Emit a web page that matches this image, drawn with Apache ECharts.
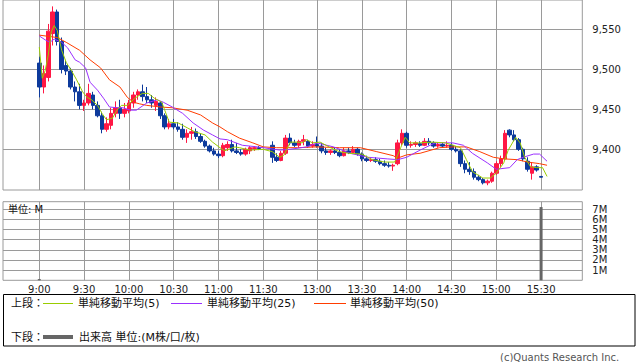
<!DOCTYPE html>
<html><head><meta charset="utf-8">
<script src="https://cdn.jsdelivr.net/npm/echarts@6/dist/echarts.min.js"></script>
<style>html,body{margin:0;padding:0;background:#fff}#c{width:638px;height:362px}</style>
</head><body><div id="c"></div>
<script>
// ---- data ----
const candleTimes = [
 '9:00','9:03','9:06','9:09','9:12','9:15','9:18','9:21','9:24','9:27',
 '9:30','9:33','9:36','9:39','9:42','9:45','9:48','9:51','9:54','9:57',
 '10:00','10:03','10:06','10:09','10:12','10:15','10:18','10:21','10:24','10:27',
 '10:30','10:33','10:36','10:39','10:42','10:45','10:48','10:51','10:54','10:57',
 '11:00','11:03','11:06','11:09','11:12','11:15','11:18','11:21','11:24','11:27',
 '12:30','12:33','12:36','12:39','12:42','12:45','12:48','12:51','12:54','12:57',
 '13:00','13:03','13:06','13:09','13:12','13:15','13:18','13:21','13:24','13:27',
 '13:30','13:33','13:36','13:39','13:42','13:45','13:48','13:51','13:54','13:57',
 '14:00','14:03','14:06','14:09','14:12','14:15','14:18','14:21','14:24','14:27',
 '14:30','14:33','14:36','14:39','14:42','14:45','14:48','14:51','14:54','14:57',
 '15:00','15:03','15:06','15:09','15:12','15:15','15:18','15:21','15:24','15:27',
 '15:30'];
const openP = [
 9508,9478,9490,9545,9572,9535,9505,9498,9478,9472,
 9455,9458,9468,9455,9442,9425,9430,9445,9452,9445,
 9448,9458,9468,9472,9466,9462,9455,9458,9442,9428,
 9432,9428,9425,9415,9420,9422,9416,9410,9404,9398,
 9394,9392,9402,9406,9398,9396,9394,9398,9401,9402,
 9405,9390,9386,9395,9414,9408,9405,9410,9410,9404,
 9406,9404,9398,9396,9398,9396,9392,9398,9396,9400,
 9394,9388,9386,9387,9385,9382,9380,9379,9382,9408,
 9420,9405,9406,9407,9405,9410,9408,9404,9406,9404,
 9405,9400,9398,9382,9375,9372,9365,9362,9358,9360,
 9370,9382,9388,9424,9418,9412,9400,9385,9370,9378,
 9366];
const highP = [
 9516,9505,9557,9579,9575,9540,9512,9502,9485,9482,
 9462,9482,9472,9460,9447,9440,9452,9460,9462,9458,
 9462,9472,9475,9481,9478,9468,9465,9460,9445,9438,
 9438,9434,9432,9425,9428,9426,9420,9412,9406,9402,
 9398,9408,9410,9412,9408,9400,9402,9404,9404,9404,
 9410,9395,9398,9418,9420,9412,9412,9418,9412,9410,
 9416,9408,9402,9400,9402,9400,9402,9402,9404,9402,
 9396,9392,9390,9390,9388,9386,9384,9382,9412,9425,
 9422,9410,9410,9410,9414,9414,9410,9408,9408,9410,
 9408,9404,9400,9386,9384,9376,9368,9364,9362,9372,
 9385,9392,9424,9425,9424,9414,9402,9390,9384,9380,
 9366];
const lowP = [
 9465,9470,9485,9530,9530,9495,9493,9475,9460,9450,
 9448,9455,9450,9440,9420,9422,9425,9440,9438,9440,
 9445,9452,9462,9460,9458,9452,9448,9438,9425,9425,
 9425,9422,9412,9408,9412,9413,9408,9402,9396,9392,
 9389,9390,9398,9396,9394,9392,9392,9394,9398,9399,
 9383,9384,9385,9393,9405,9403,9402,9405,9402,9402,
 9402,9395,9393,9393,9394,9390,9391,9394,9394,9392,
 9385,9384,9384,9383,9380,9378,9377,9373,9380,9405,
 9402,9402,9403,9403,9404,9405,9402,9402,9402,9402,
 9398,9396,9378,9370,9368,9362,9360,9356,9355,9358,
 9368,9378,9386,9415,9410,9398,9385,9372,9362,9372,
 9365];
const closeP = [
 9478,9495,9548,9572,9535,9500,9498,9478,9472,9455,
 9458,9470,9455,9442,9425,9432,9445,9452,9445,9450,
 9458,9468,9472,9466,9462,9458,9460,9442,9428,9432,
 9428,9425,9415,9420,9422,9416,9410,9404,9398,9394,
 9392,9405,9406,9398,9396,9394,9400,9402,9402,9401,
 9390,9386,9395,9414,9408,9405,9410,9412,9404,9406,
 9404,9398,9396,9398,9396,9392,9398,9396,9400,9394,
 9388,9386,9387,9385,9382,9380,9379,9380,9408,9420,
 9405,9406,9408,9405,9410,9408,9404,9406,9404,9405,
 9400,9398,9382,9375,9372,9365,9362,9358,9360,9370,
 9382,9388,9420,9418,9412,9400,9388,9375,9378,9374,
 9365];

const ma5Times = ['9:00','9:02','9:04','9:06','9:08','9:10','9:12','9:15','9:18','9:22','9:25','9:29','9:32','9:35','9:39','9:42','9:45','9:49','9:52','9:55','9:59','10:04','10:09','10:13','10:17','10:22','10:24','10:27','10:33','10:39','10:44','10:51','10:56','11:01','11:04','11:11','11:14','11:21','11:30',
 '12:30','12:35','12:38','12:42','12:47','12:50','12:53','12:57','13:02','13:09','13:15','13:21','13:30','13:37','13:45','13:52','13:56','13:59','14:02','14:08','14:17','14:26','14:31','14:36','14:40','14:44','14:51','14:56','15:00','15:05','15:08','15:13','15:16','15:19','15:23','15:27','15:31','15:34'];
const ma5 = [9528,9489,9499,9518,9547,9555,9549,9524,9509,9497,9487,9472,9465,9462,9455,9445,9437,9439,9449,9455,9455,9464,9470,9470,9464,9459,9449,9434,9433,9427,9422,9418,9409,9402,9398,9403,9402,9399,9400,
 9397,9390,9393,9409,9409,9408,9412,9408,9409,9402,9397,9395,9394,9387,9384,9384,9402,9415,9408,9408,9409,9408,9405,9402,9387,9372,9364,9364,9370,9383,9399,9415,9408,9390,9378,9377,9377,9366];

const ma25Times = ['9:00','9:04','9:07','9:10','9:15','9:19','9:24','9:27','9:31','9:34','9:39','9:43','9:47','9:52','9:56','10:01','10:05','10:12','10:19','10:23','10:29','10:36','10:43','10:50','10:56','11:01','11:06','11:16','11:26','11:30',
 '12:35','12:42','12:53','13:00','13:11','13:22','13:34','13:47','13:54','14:00','14:09','14:19','14:26','14:31','14:38','14:44','14:54','15:00','15:09','15:14','15:18','15:25','15:29','15:34'];
const ma25 = [9542,9537,9534,9538,9534,9527,9512,9509,9502,9484,9474,9464,9453,9452,9452,9449,9449,9458,9462,9459,9453,9445,9433,9424,9418,9413,9412,9405,9403,9402,
 9399,9400,9403,9408,9403,9395,9390,9388,9387,9390,9399,9408,9408,9408,9405,9395,9383,9375,9377,9387,9390,9394,9394,9385];

const ma50Times = ['9:00','9:12','9:18','9:27','9:34','9:41','9:47','9:54','9:59','10:03','10:07','10:12','10:21','10:29','10:39','10:48','10:56','11:01','11:06','11:14','11:23','11:30',
 '12:33','12:47','13:00','13:15','13:29','13:40','13:51','13:54','14:00','14:09','14:22','14:31','14:40','14:49','14:58','15:05','15:14','15:21','15:29','15:34'];
const ma50 = [9543,9540,9534,9524,9512,9502,9487,9478,9465,9459,9457,9455,9453,9452,9449,9443,9433,9428,9422,9414,9408,9403,
 9402,9402,9403,9402,9402,9397,9392,9389,9393,9395,9402,9403,9403,9397,9390,9388,9387,9384,9382,9380];

const volTimes = ['9:00','15:30'];
const volValues = [0.12, 7.2];

const timeTicks = ['9:00','9:30','10:00','10:30','11:00','11:30','13:00','13:30','14:00','14:30','15:00','15:30'];
const priceTicks = [9400,9450,9500,9550];
const volTicks = [1,2,3,4,5,6,7];

// ---- helpers ----
const LUNCH_START = 156; // axis position of 12:30 (lunch break compressed)
function toX(t){
  const p = t.split(':').map(Number);
  const mins = p[0]*60 + p[1];
  if (mins <= 11*60+30) return mins - 9*60;
  return mins - (12*60+30) + LUNCH_START;
}
const tickX = timeTicks.map(toX);
const FONT = "'DejaVu Sans','Noto Sans CJK JP',sans-serif";
const GRID_C = '#9a9a9a';
const X_MIN = -24.3, X_MAX = 363.6;

const chart = echarts.init(document.getElementById('c'), null, {renderer:'svg'});
const xBase = (gi, showLabel) => ({
  type:'value', gridIndex:gi, min:X_MIN, max:X_MAX,
  axisLine:{show:false},
  axisTick:{show:false, customValues:tickX},
  axisLabel:{show:showLabel, customValues:tickX, fontSize:10, color:'#222', margin:4, fontFamily:FONT,
    formatter:v=>{const i=tickX.indexOf(v);return i>=0?timeTicks[i]:'';}},
  splitLine:{show:true, lineStyle:{color:GRID_C, width:1}}
});
const option = {
  animation:false,
  textStyle:{fontFamily:FONT},
  grid:[
    {left:3, top:0, width:579.3, height:190, show:true, borderColor:GRID_C, borderWidth:1, backgroundColor:'#fff'},
    {left:3, top:201.7, width:579.3, height:78.6, show:true, borderColor:GRID_C, borderWidth:1, backgroundColor:'#fff'}
  ],
  xAxis:[xBase(0,false), xBase(1,true)],
  yAxis:[
    {type:'value', gridIndex:0, position:'right', min:9349, max:9587,
     axisLine:{show:false},
     axisTick:{show:true, length:6, lineStyle:{color:GRID_C}, customValues:priceTicks},
     axisLabel:{customValues:priceTicks, fontSize:10, color:'#222', margin:10, fontFamily:FONT,
       formatter:v=>v.toLocaleString('en-US')},
     splitLine:{show:true, lineStyle:{color:GRID_C, width:1}}},
    {type:'value', gridIndex:1, position:'right', min:0, max:7.73, interval:1,
     axisLine:{show:false},
     axisTick:{show:true, length:6, lineStyle:{color:GRID_C}, customValues:volTicks},
     axisLabel:{customValues:volTicks, fontSize:10, color:'#222', margin:10, fontFamily:FONT,
       formatter:v=>v+'M'},
     splitLine:{show:true, lineStyle:{color:GRID_C, width:1}}}
  ],
  series:[
    {type:'candlestick', xAxisIndex:0, yAxisIndex:0, barWidth:4,
     data:candleTimes.map((t,i)=>[toX(t), openP[i], closeP[i], lowP[i], highP[i]]),
     itemStyle:{color:'#ff1744', color0:'#0d3a9c', borderColor:'#ff1744', borderColor0:'#0d3a9c', borderWidth:1}},
    {type:'line', xAxisIndex:0, yAxisIndex:0, symbol:'none', z:3,
     data:ma50Times.map((t,i)=>[toX(t), ma50[i]]), lineStyle:{color:'#ff3d00', width:1}},
    {type:'line', xAxisIndex:0, yAxisIndex:0, symbol:'none', z:4,
     data:ma25Times.map((t,i)=>[toX(t), ma25[i]]), lineStyle:{color:'#9b30ff', width:1}},
    {type:'line', xAxisIndex:0, yAxisIndex:0, symbol:'none', z:5,
     data:ma5Times.map((t,i)=>[toX(t), ma5[i]]), lineStyle:{color:'#99cc00', width:1}},
    {type:'bar', xAxisIndex:1, yAxisIndex:1, barWidth:3,
     data:volTimes.map((t,i)=>[toX(t), volValues[i]]), itemStyle:{color:'#666'}}
  ],
  graphic:[
    {type:'text', left:8, top:204, z:10, style:{text:'単位: M', font:"10px "+FONT, fill:'#111'}},
    {type:'rect', shape:{x:3.5, y:294.5, width:631.5, height:51.5}, style:{fill:'none', stroke:'#000', lineWidth:1}},
    {type:'text', x:11, y:303, style:{text:'上段：', font:"11px "+FONT, fill:'#111', textVerticalAlign:'middle'}},
    {type:'line', shape:{x1:43, y1:303.5, x2:73, y2:303.5}, style:{stroke:'#99cc00', lineWidth:1}},
    {type:'text', x:78, y:303, style:{text:'単純移動平均(5)', font:"11px "+FONT, fill:'#111', textVerticalAlign:'middle'}},
    {type:'line', shape:{x1:171, y1:303.5, x2:202, y2:303.5}, style:{stroke:'#9b30ff', lineWidth:1}},
    {type:'text', x:207, y:303, style:{text:'単純移動平均(25)', font:"11px "+FONT, fill:'#111', textVerticalAlign:'middle'}},
    {type:'line', shape:{x1:314, y1:303.5, x2:346, y2:303.5}, style:{stroke:'#ff3d00', lineWidth:1}},
    {type:'text', x:350, y:303, style:{text:'単純移動平均(50)', font:"11px "+FONT, fill:'#111', textVerticalAlign:'middle'}},
    {type:'text', x:11, y:337, style:{text:'下段：', font:"11px "+FONT, fill:'#111', textVerticalAlign:'middle'}},
    {type:'line', shape:{x1:43, y1:337, x2:73, y2:337}, style:{stroke:'#666', lineWidth:4}},
    {type:'text', x:79, y:337, style:{text:'出来高 単位:(M株/口/枚)', font:"11px "+FONT, fill:'#111', textVerticalAlign:'middle'}},
    {type:'text', x:500, y:357, style:{text:'(c)Quants Research Inc.', font:"10px "+FONT, fill:'#555', textVerticalAlign:'middle'}}
  ]
};
chart.setOption(option);
</script>
</body></html>
